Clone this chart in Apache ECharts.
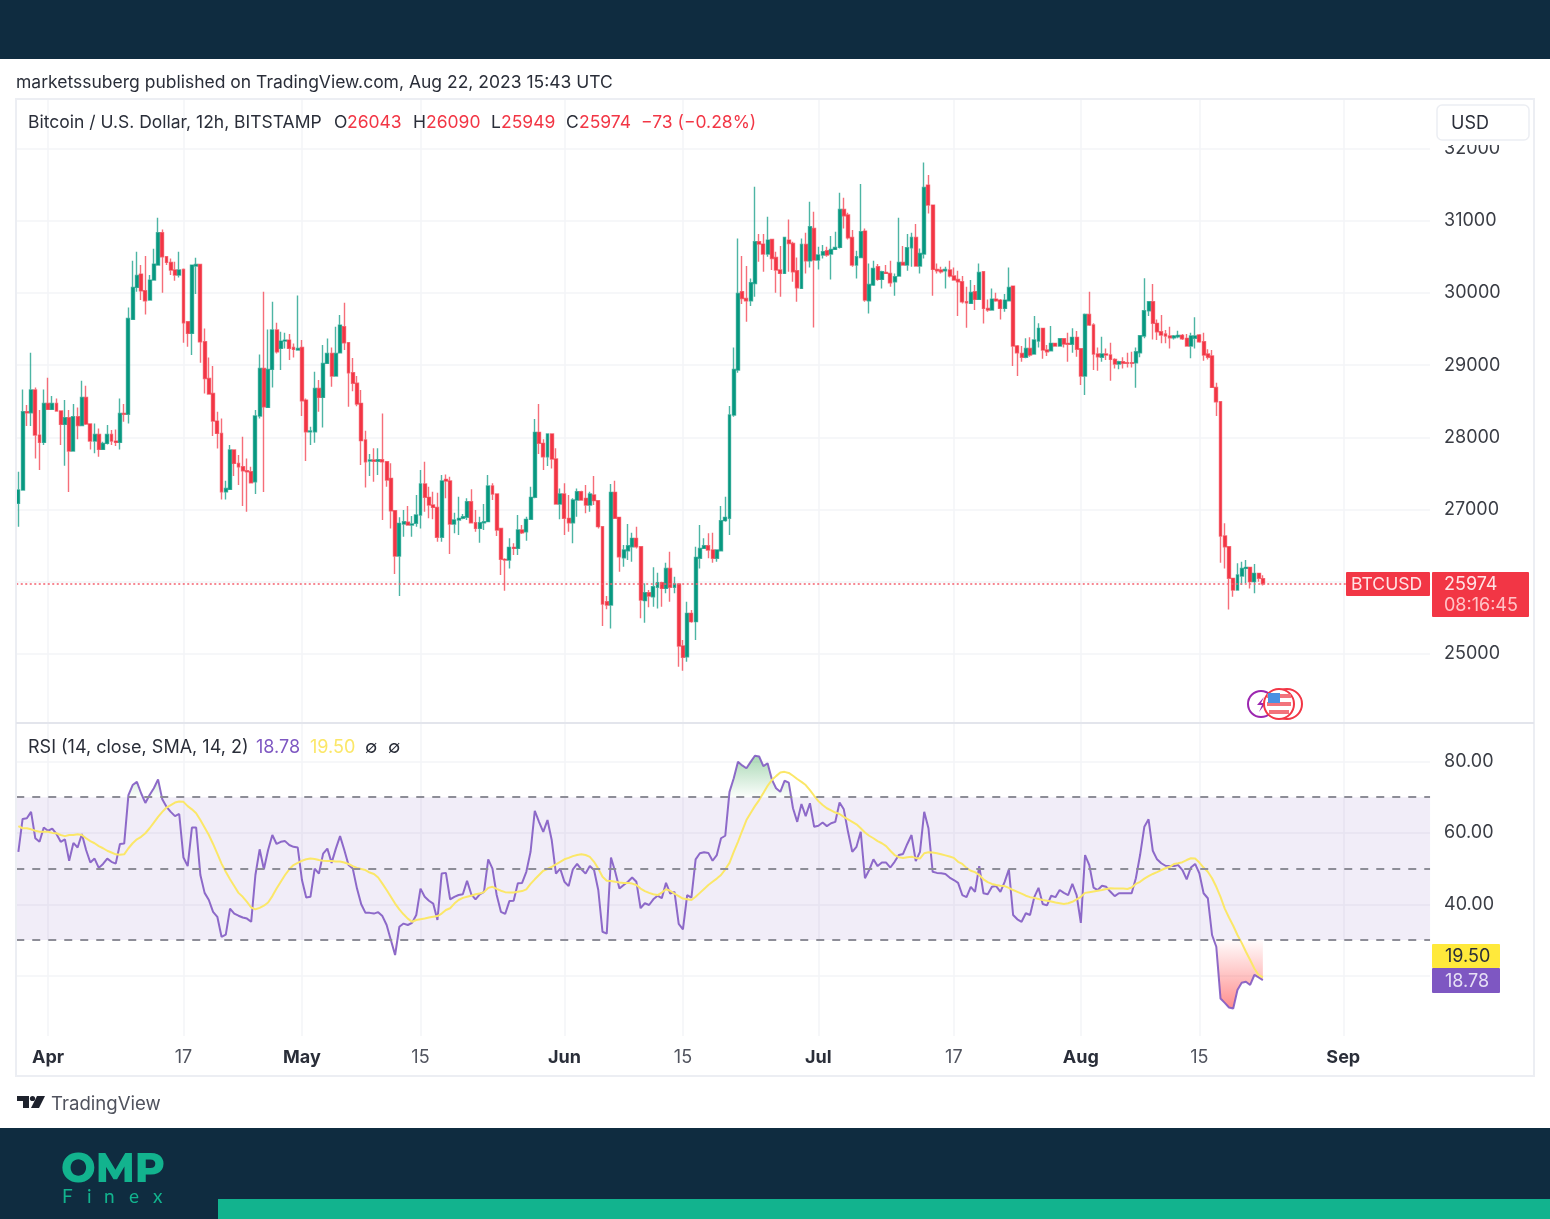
<!DOCTYPE html>
<html>
<head>
<meta charset="utf-8">
<title>BTCUSD</title>
<script src="https://cdn.jsdelivr.net/npm/echarts@6/dist/echarts.min.js"></script>
<style>
html,body{margin:0;padding:0;background:#fff;}
#chart{width:1550px;height:1219px;}
</style>
</head>
<body>
<div id="chart"></div>
<script>
// 12h candles
var opens = [27086,27271,28356,28342,28656,28032,27931,28471,28388,28471,28365,28180,28273,27811,28286,28166,28554,28185,27949,28042,
27834,27917,28042,27949,27931,28333,28320,29635,30078,30262,30032,29902,30179,30387,30835,30503,30424,30318,30249,30327,
29602,29441,30373,30396,29325,28817,28610,28226,28056,27248,27280,27825,27640,27594,27538,27525,27386,28296,28956,28416,
28942,29487,29233,29334,29348,29247,29210,29247,28517,28079,28079,28679,28554,29025,29164,28850,29173,29533,29311,28896,
28750,28472,27964,27673,27687,27670,27690,27664,27433,26985,26357,26800,26824,26787,26810,26925,27354,27170,27064,27031,
26616,27419,27396,26800,26856,26879,26893,27110,26819,26740,26819,26833,27327,27216,26740,26311,26302,26477,26463,26717,
26694,26865,27170,28070,27918,27733,28047,27701,27077,27216,26879,26819,27133,27248,27156,27064,27202,27124,26764,25725,
25678,27239,26893,26334,26431,26486,26602,26486,25739,25849,25794,25923,25988,25909,26186,25923,25969,25111,24963,25563,
25448,26325,26463,26500,26440,26325,26431,26847,26879,28309,28933,30018,29925,29893,30133,30710,30678,30539,30743,30493,
30318,30272,30733,30687,30309,30064,30673,30447,30895,30456,30526,30586,30539,30604,30632,31158,31080,30770,30387,30493,
30858,29893,30110,30364,30189,30286,30272,30156,30235,30424,30387,30627,30770,30373,30539,31495,31218,30327,30318,30309,
30318,30235,30189,30156,29879,29856,30018,29912,30295,29787,29764,29916,29902,29787,29893,30096,29266,29164,29109,29233,
29155,29335,29511,29210,29201,29303,29266,29367,29303,29289,29386,29229,28850,29704,29557,29155,29109,29155,29141,29081,
29016,29049,29035,29035,29035,29173,29404,29755,29880,29580,29464,29432,29404,29381,29395,29414,29372,29266,29372,29418,
29326,29155,29127,28693,28495,26634,26486,26048,25886,26080,26186,26200,26002,26117,26043];
var closes = [27271,28356,28342,28656,28032,27931,28471,28388,28471,28365,28180,28273,27811,28286,28166,28554,28185,27949,28042,27834,
27917,28042,27949,27931,28333,28320,29648,30078,30244,30032,29893,30179,30401,30835,30503,30424,30318,30249,30318,29588,
29441,30387,30396,29325,28817,28600,28226,28056,27248,27294,27825,27640,27594,27538,27525,27372,28296,28956,28425,28942,
29487,29187,29334,29348,29233,29219,29233,28508,28079,28088,28679,28554,29025,29164,28850,29164,29556,29311,28896,28750,
28463,27955,27664,27687,27670,27690,27664,27410,26985,26357,26810,26833,26787,26800,26925,27354,27170,27064,27031,26616,
27396,27396,26800,26856,26879,26902,27110,26819,26740,26819,26833,27327,27216,26717,26311,26302,26477,26463,26717,26680,
26865,27170,28070,27918,27733,28047,27701,27077,27216,26879,26819,27133,27248,27133,27064,27216,27124,26764,25692,25678,
27239,26879,26348,26440,26500,26602,26486,25748,25849,25803,25932,25988,25909,26186,25923,25969,25111,24954,25563,25448,
26339,26463,26500,26440,26325,26440,26847,26893,28310,28942,29995,29925,29893,30142,30710,30678,30539,30733,30479,30318,
30272,30770,30687,30295,30073,30673,30447,30918,30456,30526,30572,30526,30604,30632,31158,31070,30766,30387,30503,30849,
29902,30119,30341,30189,30295,30272,30142,30226,30424,30387,30627,30770,30373,30549,31463,31218,30327,30309,30295,30327,
30235,30179,30156,29879,29865,30009,29912,30286,29787,29764,29916,29893,29787,29902,30078,29265,29173,29109,29233,29141,
29349,29511,29210,29187,29303,29266,29367,29294,29289,29386,29220,28850,29704,29557,29155,29118,29155,29141,29081,29016,
29049,29026,29026,29026,29187,29409,29755,29880,29580,29464,29418,29404,29381,29404,29414,29367,29266,29404,29404,29326,
29141,29109,28693,28495,26634,26486,26048,25886,26094,26186,26200,26002,26117,26048,25974];
var lows = [26763,27261,28157,28157,27709,27548,27894,28379,28379,28356,27894,27608,27243,27802,27973,28157,28171,27834,27779,27732,
27825,27903,27894,27880,27834,28217,28194,29625,30018,29902,29704,29893,30170,30387,30004,30387,30249,30170,30216,29311,
29256,29141,29985,29034,28610,28600,28019,27848,27141,27141,27271,27465,27340,27049,26971,27363,27215,28263,27243,28416,
28693,29164,28933,29233,29071,29108,29210,28296,27672,27894,27926,28356,28139,29025,28702,28850,29164,29210,28425,28640,
28430,27618,27308,27465,27387,27479,26856,27318,26740,26108,25803,26625,26777,26625,26764,26740,26971,26879,26865,26556,
26556,27156,26385,26671,26648,26865,26856,26810,26694,26542,26717,26833,27133,26634,26094,25877,26186,26371,26371,26662,
26570,26856,27156,27770,27548,27604,27571,27077,26865,26648,26694,26533,26902,27124,26948,26971,27064,26740,25388,25619,
25355,26879,26140,26209,26302,26279,26463,25494,25434,25646,25655,25632,25655,25840,25725,25840,24824,24769,24894,25434,
25194,26186,26463,26325,26265,26279,26431,26833,26648,28286,28896,29847,29602,29819,29949,30433,30295,30503,30318,30004,
29949,30262,30295,30156,29879,30055,30272,30355,29524,30327,30479,30503,30189,30604,30618,30895,30743,30364,30202,30493,
29879,29718,30096,30170,30064,30262,30087,29962,30226,30387,30309,30364,30364,30272,30479,31103,29962,30272,30272,30064,
30216,30170,29681,29856,29519,29856,29764,29912,29579,29741,29764,29879,29635,29741,29893,28988,28850,29049,29095,29118,
29155,29247,29090,29127,29201,29257,29257,29247,29049,29173,29118,28726,28587,29543,28933,28924,29049,29072,28786,28956,
28943,28956,28970,28970,28689,29109,29372,29681,29358,29349,29303,29303,29233,29358,29372,29349,29257,29095,29233,29312,
29063,29081,28693,28296,26265,26186,25618,25794,25877,25955,25979,25909,25840,26002,25949];
var highs = [27525,28665,28448,29173,28693,28379,28665,28827,28573,28540,28365,28517,28379,28462,28416,28785,28716,28194,28194,28125,
27940,28171,28102,28111,28540,28462,29801,30447,30572,30387,30512,30249,30613,31043,30881,30503,30479,30433,30572,30341,
29602,30387,30489,30396,29510,29108,28988,28356,28263,27400,27894,27834,27755,28009,27709,27594,28379,29150,30018,29496,
29879,29588,29464,29450,29431,29302,29967,29348,28540,28148,28910,28794,29279,29371,29247,29533,29695,29865,29311,29100,
28850,28656,28093,27770,27849,27849,28333,27670,27641,26994,26893,26994,27050,26911,27202,27548,27664,27318,27248,27234,
27479,27488,27456,26957,27179,26939,27156,27281,26994,26902,27077,27479,27364,27216,26740,26325,26602,26533,26925,26787,
26902,27318,28255,28463,27973,28047,28047,27849,27294,27364,27202,27156,27294,27262,27341,27248,27465,27133,26764,25803,
27354,27401,26902,26510,26800,26680,26764,26486,25979,25886,26200,26126,26002,26265,26417,26071,25969,25194,25725,25609,
26486,26787,26602,26671,26680,26450,27050,27179,28435,29247,30756,30512,30373,30202,31472,30817,30817,31057,30743,30572,
30650,30770,31020,30710,30493,30756,30835,31264,31126,30641,30664,30641,30789,30849,31389,31320,31112,30872,30586,31509,
30895,30410,30447,30401,30309,30387,30447,30272,31043,30650,30817,30835,30955,30618,31809,31634,31218,30410,30364,30364,
30447,30355,30309,30235,30087,30179,30110,30410,30295,29912,30064,30004,29916,29985,30355,30096,29279,29266,29372,29386,
29681,29580,29511,29280,29543,29312,29367,29367,29450,29511,29474,29233,29718,30018,29580,29247,29395,29233,29312,29095,
29063,29109,29173,29187,29247,29418,30203,29880,30125,29635,29695,29487,29534,29418,29478,29432,29432,29450,29663,29432,
29450,29220,29210,28758,28495,26810,26486,26048,26256,26279,26302,26200,26246,26126,26090];

// RSI (14) and its SMA (14)
var rsi = [54.7,63.9,64.1,65.9,58.5,57.5,61.5,60.6,61.2,59.7,57.5,58.2,52.2,57.2,55.9,59.7,55.2,51.7,52.8,50.2,
51.3,52.8,51.9,51.4,56.9,57.0,70.6,73.4,74.3,71.1,68.4,70.6,72.5,75.0,69.4,67.3,65.9,64.7,65.3,53.1,
50.7,61.5,61.5,48.2,43.2,41.2,37.9,36.5,30.9,31.5,38.8,37.4,36.8,36.3,36.0,35.1,48.2,55.4,49.8,55.2,
59.4,56.9,57.5,57.7,56.6,56.1,55.9,46.8,41.9,42.1,50.0,48.6,54.2,55.6,51.6,55.6,59.1,55.2,51.0,50.0,
44.4,40.0,37.6,37.6,37.4,37.8,36.7,34.2,30.0,25.8,33.7,34.6,34.2,34.8,37.0,44.4,42.1,41.0,40.2,35.6,
48.6,48.8,41.4,42.1,42.6,42.8,46.6,42.8,41.4,42.8,43.5,52.6,50.0,42.6,37.9,37.3,40.9,41.0,45.9,46.0,
49.1,54.7,66.2,63.1,60.3,63.6,58.0,48.6,50.0,46.3,45.1,49.8,51.3,49.8,48.6,50.7,49.6,44.0,32.3,31.8,
53.1,49.1,44.4,45.4,46.3,47.5,46.3,38.9,40.3,39.8,41.4,42.4,41.7,46.0,43.0,43.5,34.5,33.0,42.6,41.9,
52.6,54.3,54.6,54.4,52.2,53.8,58.5,59.2,71.5,75.3,79.9,78.9,78.1,79.9,81.6,81.4,78.7,79.5,75.0,72.5,
71.5,74.6,74.1,66.9,63.1,68.1,64.7,68.3,61.7,62.0,62.9,61.9,62.7,63.1,68.5,66.6,60.3,54.7,56.1,60.3,
47.3,49.6,52.6,50.7,51.7,51.7,50.3,51.9,53.8,54.1,56.9,59.4,52.1,54.7,65.9,61.3,49.1,48.8,48.7,48.5,
47.5,46.8,46.0,42.6,42.0,44.9,43.5,50.7,43.1,42.8,44.9,45.1,43.5,46.3,49.8,37.0,35.8,35.1,37.5,37.0,
42.0,44.6,40.1,39.7,42.4,42.0,44.0,43.2,42.6,45.7,42.6,34.8,53.8,51.0,44.7,44.0,45.2,44.9,43.5,42.3,
43.1,43.1,43.1,43.1,47.3,53.8,61.7,63.8,55.0,52.6,51.5,50.8,50.7,50.7,51.0,49.6,47.0,50.3,51.3,48.7,
43.1,41.7,31.4,28.1,13.6,12.4,11.1,10.8,16.0,18.0,18.3,17.4,20.2,19.5,18.78];
var rsiSma = [61.9,61.3,61.3,61.0,60.6,60.3,60.3,60.3,60.0,59.9,59.4,59.1,59.4,59.4,59.6,59.4,58.5,57.7,57.1,56.3,
55.7,55.0,54.5,54.0,53.9,54.0,55.7,57.1,58.2,58.9,59.9,61.3,62.9,64.5,65.9,67.1,67.8,68.5,68.8,68.7,
67.5,66.6,65.5,63.6,61.5,59.4,56.9,54.2,51.4,49.1,47.0,45.1,43.2,42.1,40.7,39.1,38.6,39.0,39.6,40.5,
42.3,44.4,46.3,48.2,49.8,51.0,51.6,52.2,52.6,52.8,52.7,52.4,52.2,52.1,52.1,52.0,52.0,51.7,51.3,50.7,
50.2,49.9,49.6,48.9,48.5,47.5,45.8,44.0,42.1,40.2,38.6,37.2,36.0,35.1,35.6,35.8,36.0,36.3,36.5,36.7,
37.4,38.4,38.9,40.2,41.2,41.8,42.1,42.4,42.8,43.0,43.4,44.6,44.9,44.3,43.8,43.4,43.3,43.3,43.5,43.7,
44.2,45.7,47.0,48.2,49.4,49.9,50.5,51.2,51.9,52.6,53.0,53.5,53.8,54.0,53.8,53.3,51.9,50.0,47.7,46.6,
46.5,46.3,46.1,46.0,46.0,45.8,45.4,44.4,43.7,43.2,42.8,42.6,43.3,44.2,43.8,43.0,42.3,41.6,41.4,41.2,
42.1,43.2,44.3,45.4,46.3,47.2,48.2,49.8,51.6,54.7,57.5,60.6,63.6,65.6,67.5,69.2,71.2,73.2,74.8,75.9,
76.9,77.1,76.8,76.0,75.1,74.3,73.4,72.0,70.4,68.9,67.8,66.9,66.3,65.7,65.3,64.5,63.8,63.1,62.4,61.3,
60.1,59.2,58.5,57.7,57.1,56.3,55.0,53.8,53.2,53.0,53.2,53.3,53.0,52.8,54.3,54.6,54.5,54.3,54.0,53.7,
53.4,53.0,51.9,51.3,50.2,49.4,49.0,48.2,47.0,46.2,45.7,45.4,45.2,45.1,44.6,44.0,43.5,43.0,42.4,42.0,
41.8,41.5,41.2,41.0,40.8,40.5,40.3,40.1,40.3,40.7,41.4,42.1,43.2,43.4,43.6,43.8,44.0,44.3,44.5,44.4,
44.4,44.4,44.3,44.7,45.7,46.3,47.2,47.9,48.5,49.0,49.6,50.1,50.5,51.3,51.5,51.8,52.4,52.9,52.8,51.7,
50.3,49.1,47.3,44.9,42.1,38.8,36.3,34.0,31.4,29.2,26.7,24.4,22.0,20.2,19.5];

var rsiLevels = [70, 50, 30];
var lastPrice = 25974;

var tickDates = ['2023-04-01 00:00','2023-04-17 00:00','2023-05-01 00:00','2023-05-15 00:00','2023-06-01 00:00','2023-06-15 00:00',
                 '2023-07-01 00:00','2023-07-17 00:00','2023-08-01 00:00','2023-08-15 00:00','2023-09-01 00:00'];
var tickLabels = ['Apr','17','May','15','Jun','15','Jul','17','Aug','15','Sep'];

// time axis runs on past the last candle, up to the price scale
var categories = [];
(function(){
    var t = Date.UTC(2023, 2, 28, 12);
    for (var i = 0; i < 334; i++) {
        categories.push(new Date(t + i * 43200000).toISOString().slice(0, 16).replace('T', ' '));
    }
})();

var UP = '#089981', DOWN = '#f23645', GRID = '#f3f4f7', TEXT = '#3a3d45', FONT = 'Inter, Roboto, sans-serif';
var PURPLE = '#7e57c2', YELLOW = '#fbe768', NAVY = '#0f2c40', TEAL = '#12b38e', DARK = '#2a2e39';

var candles = opens.map(function(o, i){ return [o, closes[i], lows[i], highs[i]]; });

function isTick(index, value){ return tickDates.indexOf(value) >= 0; }

// one piece of legend or badge text
function label(x, y, text, fill, size, z){
    return {type: 'text', z: z || 31, x: x, y: y, style: {text: text, fill: fill, font: (size || 18) + 'px ' + FONT}};
}

var chart = echarts.init(document.getElementById('chart'));

var option = {
    animation: false,
    backgroundColor: '#fff',
    textStyle: {fontFamily: FONT},
    grid: [
        {left: 16.25, width: 1413.8, top: 98.1, height: 628.1},
        {left: 16.25, width: 1413.8, top: 725.8, height: 321.3}
    ],
    xAxis: [
        {
            type: 'category', gridIndex: 0, data: categories, boundaryGap: true,
            axisLine: {show: false}, axisTick: {show: false}, axisLabel: {show: false},
            splitLine: {show: true, alignWithLabel: true, interval: isTick, lineStyle: {color: GRID, width: 1.5}}
        },
        {
            type: 'category', gridIndex: 1, data: categories, boundaryGap: true,
            axisLine: {show: false}, axisTick: {show: false},
            splitLine: {show: true, alignWithLabel: true, interval: isTick, lineStyle: {color: GRID, width: 1.5}},
            axisLabel: {
                interval: isTick, margin: 1, fontSize: 18,
                formatter: function(value){
                    var t = tickLabels[tickDates.indexOf(value)];
                    return /[A-Z]/.test(t) ? '{m|' + t + '}' : '{d|' + t + '}';
                },
                rich: {
                    m: {fontFamily: FONT, fontSize: 18, fontWeight: 'bold', color: DARK},
                    d: {fontFamily: FONT, fontSize: 18, color: '#50535e'}
                }
            }
        }
    ],
    yAxis: [
        {
            type: 'value', gridIndex: 0, position: 'right', min: 24000, max: 32700, interval: 1000,
            axisLine: {show: false}, axisTick: {show: false},
            splitLine: {show: true, showMinLine: false, showMaxLine: false, lineStyle: {color: GRID, width: 1.5}},
            axisLabel: {
                margin: 14, fontSize: 18, color: TEXT, showMinLabel: false, showMaxLabel: false, padding: [2, 0, 0, 0],
                formatter: function(v){ return String(v); }
            }
        },
        {
            type: 'value', gridIndex: 1, position: 'right', min: 0, max: 90, interval: 20,
            axisLine: {show: false}, axisTick: {show: false},
            splitLine: {show: true, showMinLine: false, showMaxLine: false, lineStyle: {color: GRID, width: 1.5}},
            axisLabel: {
                margin: 14, fontSize: 18, color: TEXT, showMinLabel: false, showMaxLabel: false,
                formatter: function(v){ return v.toFixed(2); }
            }
        }
    ],
    series: [
        {
            name: 'BTCUSD', type: 'candlestick', xAxisIndex: 0, yAxisIndex: 0, data: candles, barWidth: 3.4,
            itemStyle: {color: UP, color0: DOWN, borderColor: 'rgba(8,153,129,0.72)', borderColor0: 'rgba(242,54,69,0.72)', borderWidth: 1.4},
            markLine: {
                silent: true, symbol: 'none', label: {show: false},
                lineStyle: {color: '#f5606e', type: [2, 2.5], width: 1.6},
                data: [{yAxis: lastPrice}]
            }
        },
        {
            name: 'overbought', type: 'line', xAxisIndex: 1, yAxisIndex: 1, symbol: 'none', silent: true,
            data: rsi.map(function(v){ return Math.max(v, rsiLevels[0]); }),
            lineStyle: {width: 0},
            areaStyle: {origin: rsiLevels[0], opacity: 1, color: new echarts.graphic.LinearGradient(0, 0, 0, 1, [
                {offset: 0, color: 'rgba(76,175,100,0.48)'}, {offset: 1, color: 'rgba(76,175,100,0.02)'}
            ])}
        },
        {
            name: 'oversold', type: 'line', xAxisIndex: 1, yAxisIndex: 1, symbol: 'none', silent: true,
            data: rsi.map(function(v){ return Math.min(v, rsiLevels[2]); }),
            lineStyle: {width: 0},
            areaStyle: {origin: rsiLevels[2], opacity: 1, color: new echarts.graphic.LinearGradient(0, 0, 0, 1, [
                {offset: 0, color: 'rgba(255,82,82,0.02)'}, {offset: 1, color: 'rgba(255,82,82,0.65)'}
            ])}
        },
        {
            name: 'RSI', type: 'line', xAxisIndex: 1, yAxisIndex: 1, symbol: 'none', data: rsi,
            lineStyle: {color: PURPLE, width: 2, opacity: 0.88},
            markArea: {
                silent: true, itemStyle: {color: 'rgba(126,87,194,0.11)'},
                data: [[{yAxis: rsiLevels[2]}, {yAxis: rsiLevels[0]}]]
            },
            markLine: {
                silent: true, symbol: 'none', label: {show: false},
                lineStyle: {color: '#8d8d97', type: [8, 8], width: 1.8},
                data: rsiLevels.map(function(v){ return {yAxis: v}; })
            }
        },
        {
            name: 'RSI-based MA', type: 'line', xAxisIndex: 1, yAxisIndex: 1, symbol: 'none', data: rsiSma,
            lineStyle: {color: YELLOW, width: 2}
        }
    ],
    graphic: [
        // page furniture
        {type: 'rect', z: 50, shape: {x: 0, y: 0, width: 1550, height: 59}, style: {fill: NAVY}},
        {type: 'rect', z: 50, shape: {x: 0, y: 1128, width: 1550, height: 91}, style: {fill: NAVY}},
        {type: 'rect', z: 51, shape: {x: 218, y: 1199, width: 1332, height: 20}, style: {fill: TEAL}},
        {type: 'text', z: 51, x: 61, y: 1149, style: {text: 'OMP', fill: TEAL, font: '800 41px Montserrat, Inter, sans-serif'}},
        {type: 'text', z: 51, x: 62, y: 1187, style: {text: 'F', fill: TEAL, font: '19px Lato, sans-serif'}},
        {type: 'text', z: 51, x: 87, y: 1187, style: {text: 'i', fill: TEAL, font: '19px Lato, sans-serif'}},
        {type: 'text', z: 51, x: 104, y: 1187, style: {text: 'n', fill: TEAL, font: '19px Lato, sans-serif'}},
        {type: 'text', z: 51, x: 129, y: 1187, style: {text: 'e', fill: TEAL, font: '19px Lato, sans-serif'}},
        {type: 'text', z: 51, x: 153, y: 1187, style: {text: 'x', fill: TEAL, font: '19px Lato, sans-serif'}},
        label(16, 74, 'marketssuberg published on TradingView.com, Aug 22, 2023 15:43 UTC', DARK, 17.5, 51),
        // chart frame and pane divider
        {type: 'rect', z: 20, shape: {x: 16, y: 1036, width: 1514, height: 11}, style: {fill: '#fff'}},
        {type: 'rect', z: 21, shape: {x: 16, y: 99, width: 1518, height: 977}, style: {fill: 'none', stroke: '#eceef3', lineWidth: 2}},
        {type: 'line', z: 21, shape: {x1: 16, y1: 723, x2: 1534, y2: 723}, style: {stroke: '#e3e5ec', lineWidth: 2}},
        // legends
        label(28, 114, 'Bitcoin / U.S. Dollar, 12h, BITSTAMP', DARK, 17.5),
        label(334, 114, 'O', DARK, 17.5), label(347, 114, '26043', DOWN, 17.5),
        label(413, 114, 'H', DARK, 17.5), label(426, 114, '26090', DOWN, 17.5),
        label(491, 114, 'L', DARK, 17.5), label(501, 114, '25949', DOWN, 17.5),
        label(566, 114, 'C', DARK, 17.5), label(579, 114, '25974', DOWN, 17.5),
        label(641, 114, '\u221273 (\u22120.28%)', DOWN, 17.5),
        label(28, 739, 'RSI (14, close, SMA, 14, 2)', DARK, 18),
        label(256, 739, '18.78', PURPLE, 18), label(310, 739, '19.50', YELLOW, 18),
        label(365, 739, '\u2205', DARK, 18), label(388, 739, '\u2205', DARK, 18),
        // currency button
        {type: 'rect', z: 30, shape: {x: 1431, y: 100, width: 102, height: 45}, style: {fill: '#fff'}},
        {type: 'rect', z: 31, shape: {x: 1437, y: 105, width: 92, height: 35, r: 5}, style: {fill: '#fff', stroke: '#eceef3', lineWidth: 1.5}},
        label(1451, 115, 'USD', DARK, 18, 32),
        // last price badges
        {type: 'rect', z: 30, shape: {x: 1346, y: 572, width: 84, height: 24, r: 1}, style: {fill: DOWN}},
        label(1351, 576, 'BTCUSD', '#ffe3e5', 17.6),
        {type: 'rect', z: 30, shape: {x: 1432, y: 572, width: 97, height: 45, r: 1}, style: {fill: DOWN}},
        label(1444, 576, '25974', '#ffe3e5'),
        label(1444, 597, '08:16:45', '#ffc4c8'),
        // RSI badges
        {type: 'rect', z: 30, shape: {x: 1432, y: 944, width: 68, height: 24, r: 1}, style: {fill: '#ffe93b'}},
        label(1445, 948, '19.50', DARK),
        {type: 'rect', z: 30, shape: {x: 1432, y: 968, width: 68, height: 25, r: 1}, style: {fill: PURPLE}},
        label(1445, 973, '18.78', '#e6dff5'),
        // event markers
        {type: 'circle', z: 30, shape: {cx: 1261, cy: 704, r: 13}, style: {fill: '#fff', stroke: '#9c27b0', lineWidth: 2}},
        {type: 'polygon', z: 30, shape: {points: [[1264,697],[1257,705],[1262,705],[1259,712],[1266,703],[1261,703]]}, style: {fill: '#9c27b0'}},
        {type: 'circle', z: 31, shape: {cx: 1287, cy: 704, r: 15}, style: {fill: '#fff', stroke: DOWN, lineWidth: 2}},
        {type: 'circle', z: 32, shape: {cx: 1279, cy: 704, r: 15}, style: {fill: '#fff', stroke: DOWN, lineWidth: 2}},
        {type: 'rect', z: 33, shape: {x: 1267, y: 694, width: 24, height: 4}, style: {fill: '#f2737c'}},
        {type: 'rect', z: 33, shape: {x: 1267, y: 702, width: 24, height: 4}, style: {fill: '#f2737c'}},
        {type: 'rect', z: 33, shape: {x: 1269, y: 710, width: 20, height: 4}, style: {fill: '#f2737c'}},
        {type: 'rect', z: 34, shape: {x: 1268, y: 693, width: 12, height: 10}, style: {fill: '#4a90e2'}},
        // TradingView mark
        {type: 'polygon', z: 30, shape: {points: [[17,1096],[29,1096],[29,1108],[23,1108],[23,1101],[17,1101]]}, style: {fill: '#1e222d'}},
        {type: 'circle', z: 30, shape: {cx: 32.5, cy: 1098.5, r: 2.6}, style: {fill: '#1e222d'}},
        {type: 'polygon', z: 30, shape: {points: [[37,1096],[45,1096],[39,1108],[31,1108]]}, style: {fill: '#1e222d'}},
        label(51, 1095, 'TradingView', '#50535e', 18.6, 30)
    ]
};

chart.setOption(option);
</script>
</body>
</html>
